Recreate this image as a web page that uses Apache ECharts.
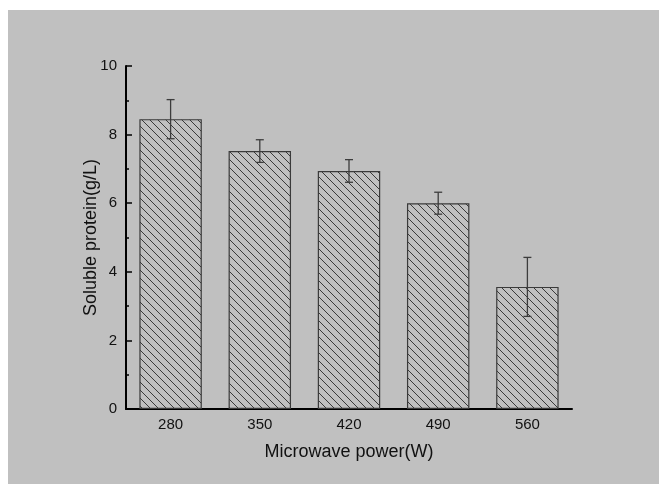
<!DOCTYPE html>
<html>
<head>
<meta charset="utf-8">
<script src="https://cdn.jsdelivr.net/npm/echarts@6/dist/echarts.min.js"></script>
<style>
  html, body { margin: 0; padding: 0; background: #ffffff; }
  #chart { position: absolute; left: 8px; top: 10px; width: 651px; height: 474px; }
</style>
</head>
<body>
<div id="chart"></div>
<script>
// data
const powers = ['280', '350', '420', '490', '560']
const protein = [8.45, 7.52, 6.94, 6.0, 3.56]
const proteinErr = [0.57, 0.33, 0.33, 0.32, 0.86]

// hatch fill for the bars
const makeHatch = () => {
  const c = document.createElement('canvas')
  c.width = 8
  c.height = 8
  const ctx = c.getContext('2d')
  ctx.fillStyle = '#c0c0c0'
  ctx.fillRect(0, 0, 8, 8)
  ctx.strokeStyle = '#3a3a3a'
  ctx.lineWidth = 1
  ctx.beginPath()
  ctx.moveTo(-1, -1)
  ctx.lineTo(9, 9)
  ctx.moveTo(-1, 7)
  ctx.lineTo(1, 9)
  ctx.moveTo(7, -1)
  ctx.lineTo(9, 1)
  ctx.stroke()
  return c
}

const chart = echarts.init(document.getElementById('chart'))
const font = 'Liberation Sans, Arial, sans-serif'

const option = {
  backgroundColor: '#c0c0c0',
  animation: false,
  grid: { left: 118, right: 87, top: 56, bottom: 75 },
  xAxis: [
    {
      type: 'category',
      data: powers,
      name: 'Microwave power(W)',
      nameLocation: 'middle',
      nameGap: 34,
      nameTextStyle: { fontFamily: font, fontSize: 18, color: '#111' },
      axisLine: { lineStyle: { color: '#000', width: 2 } },
      axisTick: { alignWithLabel: true, inside: true, length: 7, lineStyle: { color: '#000', width: 1.5 } },
      axisLabel: { fontFamily: font, fontSize: 15, color: '#111', margin: 8 }
    },
    {
      type: 'category',
      data: powers,
      position: 'bottom',
      axisLine: { show: false },
      axisTick: { inside: true, length: 3, lineStyle: { color: '#000', width: 1.5 } },
      axisLabel: { show: false }
    }
  ],
  yAxis: [
    {
      type: 'value',
      min: 0,
      max: 10,
      interval: 2,
      name: 'Soluble protein(g/L)',
      nameLocation: 'middle',
      nameGap: 26,
      nameMoveOverlap: false,
      nameTextStyle: { fontFamily: font, fontSize: 18, color: '#111' },
      splitLine: { show: false },
      axisLine: { show: true, lineStyle: { color: '#000', width: 2 } },
      axisTick: { show: true, inside: true, length: 6, lineStyle: { color: '#000', width: 1.5 } },
      axisLabel: { fontFamily: font, fontSize: 15, color: '#111', margin: 9 }
    },
    {
      type: 'value',
      min: 0,
      max: 10,
      interval: 1,
      position: 'left',
      splitLine: { show: false },
      axisLine: { show: false },
      axisTick: { show: true, inside: true, length: 3, lineStyle: { color: '#000', width: 1.5 } },
      axisLabel: { show: false }
    }
  ],
  series: [
    {
      name: 'protein',
      type: 'bar',
      data: protein,
      barCategoryGap: '30%',
      itemStyle: {
        color: { image: makeHatch(), repeat: 'repeat' },
        borderColor: '#3a3a3a',
        borderWidth: 1.2
      }
    },
    {
      name: 'error',
      type: 'custom',
      data: protein.map((v, i) => [i, v - proteinErr[i], v + proteinErr[i]]),
      z: 5,
      renderItem: (params, api) => {
        const lo = api.coord([api.value(0), api.value(1)])
        const hi = api.coord([api.value(0), api.value(2)])
        const half = 4
        const style = { stroke: '#3c3c3c', lineWidth: 1.3 }
        return {
          type: 'group',
          children: [
            { type: 'line', shape: { x1: hi[0], y1: hi[1], x2: lo[0], y2: lo[1] }, style },
            { type: 'line', shape: { x1: hi[0] - half, y1: hi[1], x2: hi[0] + half, y2: hi[1] }, style },
            { type: 'line', shape: { x1: lo[0] - half, y1: lo[1], x2: lo[0] + half, y2: lo[1] }, style }
          ]
        }
      }
    }
  ]
}

chart.setOption(option)
</script>
</body>
</html>
